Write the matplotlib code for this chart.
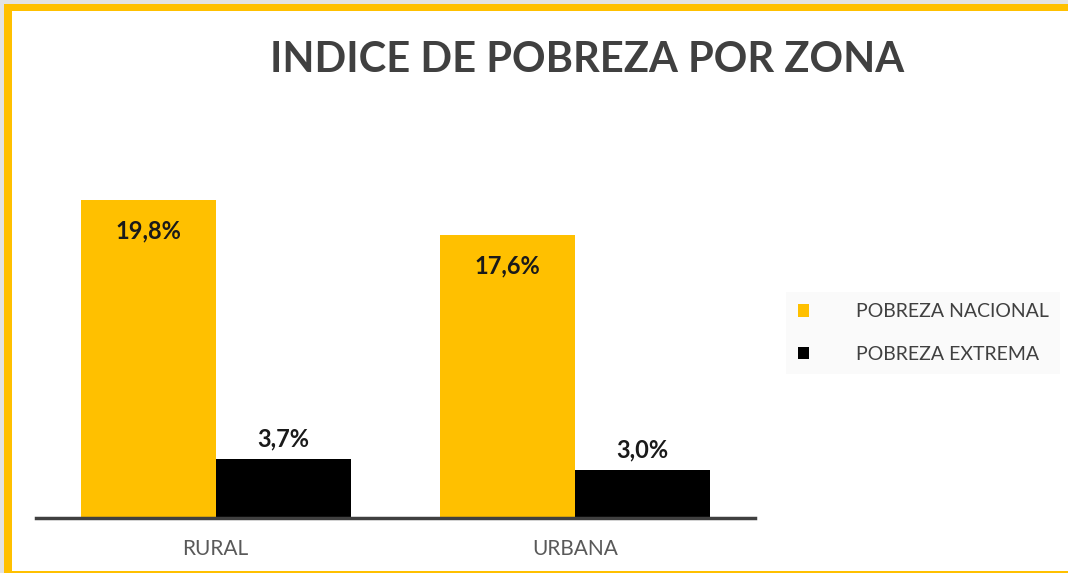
import matplotlib
matplotlib.use("Agg")
import matplotlib.pyplot as plt
from matplotlib.patches import Rectangle
import numpy as np

zonas = ["RURAL", "URBANA"]
pobreza_nacional = [19.8, 17.6]
pobreza_extrema = [3.7, 3.0]
series_names = ["POBREZA NACIONAL", "POBREZA EXTREMA"]

amarillo = "#FFC000"
negro = "#000000"

plt.rcParams['font.family'] = ['Lato', 'DejaVu Sans']

fig = plt.figure(figsize=(10.68, 5.73), dpi=100)
W, H = 1068, 573

# marco exterior
fig.patches.append(Rectangle((0, 0), 1, 1, transform=fig.transFigure,
                             facecolor="white", edgecolor="none", zorder=-3))
fig.patches.append(Rectangle((0, 0), 4 / W, 1, transform=fig.transFigure,
                             facecolor="#e3e3e3", edgecolor="none", zorder=-2))
fig.patches.append(Rectangle((0, 1 - 4 / H), 1, 4 / H, transform=fig.transFigure,
                             facecolor="#e3e3e3", edgecolor="none", zorder=-2))
fig.patches.append(Rectangle((4 / W, 0), 8 / W, 1 - 4 / H, transform=fig.transFigure,
                             facecolor=amarillo, edgecolor="none", zorder=-1))
fig.patches.append(Rectangle((4 / W, 1 - 11 / H), 1, 7 / H, transform=fig.transFigure,
                             facecolor=amarillo, edgecolor="none", zorder=-1))
fig.patches.append(Rectangle((4 / W, 0), 1, 2 / H, transform=fig.transFigure,
                             facecolor=amarillo, edgecolor="none", zorder=-1))

ax = fig.add_axes([36 / W, 55 / H, (755 - 36) / W, 418 / H])
ax.set_facecolor("none")

x = np.arange(len(zonas))
w = 0.375
b1 = ax.bar(x - w / 2, pobreza_nacional, w, color=amarillo, label=series_names[0])
b2 = ax.bar(x + w / 2, pobreza_extrema, w, color=negro, label=series_names[1])

for rect, v in zip(b1, pobreza_nacional):
    ax.annotate(f"{v:.1f}%".replace(".", ","), (rect.get_x() + rect.get_width() / 2, v),
                xytext=(0, -31), textcoords="offset pixels", ha="center", va="center",
                fontsize=17, fontweight="bold", color="#1a1a1a")
for rect, v in zip(b2, pobreza_extrema):
    ax.annotate(f"{v:.1f}%".replace(".", ","), (rect.get_x() + rect.get_width() / 2, v),
                xytext=(0, 20), textcoords="offset pixels", ha="center", va="center",
                fontsize=17, fontweight="bold", color="#1a1a1a")

ax.set_xlim(-0.5, 1.5)
ax.set_ylim(0, 26)
ax.set_xticks(x)
ax.set_xticklabels(zonas, fontsize=15, color="#595959")
ax.tick_params(axis="x", length=0, pad=15)
ax.set_yticks([])
for s in ["top", "right", "left"]:
    ax.spines[s].set_visible(False)
ax.spines["bottom"].set_color("#404040")
ax.spines["bottom"].set_linewidth(2.5)

fig.text(587 / W, 1 - 60 / H, "INDICE DE POBREZA POR ZONA", ha="center", va="center",
         fontsize=30, fontweight="bold", color="#404040")

leg = fig.legend(handles=[b1, b2], labels=series_names, loc="center left",
                 bbox_to_anchor=(780 / W, 1 - 333 / H), frameon=True, fontsize=14,
                 handlelength=0.6, handleheight=0.6, handletextpad=2.4, labelspacing=1.3,
                 labelcolor="#404040")
leg.get_frame().set_facecolor("#f9f9f9")
leg.get_frame().set_edgecolor("none")
leg.get_frame().set_boxstyle("square", pad=0.2)

fig.savefig("out.png", dpi=100)
